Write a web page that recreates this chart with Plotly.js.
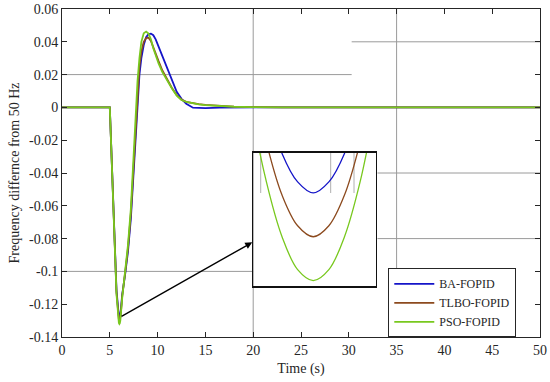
<!DOCTYPE html>
<html>
<head>
<meta charset="utf-8">
<script src="https://cdn.plot.ly/plotly-3.0.1.min.js"></script>
<style>html,body{margin:0;padding:0;background:#fff;}#chart{width:550px;height:382px;}</style>
</head>
<body>
<div id="chart"></div>
<script>
// ---- data ----
const time = [0, 5.0, 5.7, 5.8, 5.85, 5.9, 5.95, 6.0, 6.05, 6.1, 6.15, 6.2, 6.3, 6.6, 6.9, 7.2, 7.5, 7.7, 7.9, 8.1, 8.3, 8.55, 8.8, 9.05, 9.3, 9.55, 9.8, 10.1, 10.5, 11.0, 11.5, 12.0, 12.5, 13.0, 13.7, 14.3, 15.0, 16.5, 18, 20, 23, 50];
const baFopid = [0, 0, -0.1114, -0.1206, -0.1239, -0.1262, -0.1275, -0.1280, -0.1275, -0.1262, -0.1239, -0.1206, -0.1140, -0.1020, -0.0880, -0.0680, -0.0380, -0.0140, 0.0060, 0.0200, 0.0300, 0.0380, 0.0428, 0.0447, 0.0450, 0.0440, 0.0415, 0.0372, 0.0305, 0.0235, 0.0165, 0.0095, 0.0052, 0.0022, -0.0002, -0.0005, -0.0004, -0.0001, 0, 0, 0, 0];
const tlboFopid = [0, 0, -0.1127, -0.1223, -0.1257, -0.1281, -0.1295, -0.1300, -0.1295, -0.1281, -0.1257, -0.1223, -0.1150, -0.1010, -0.0860, -0.0650, -0.0340, -0.0090, 0.0110, 0.0250, 0.0340, 0.0400, 0.0423, 0.0425, 0.0405, 0.0370, 0.0330, 0.0282, 0.0225, 0.0168, 0.0118, 0.0075, 0.0047, 0.0034, 0.0025, 0.0020, 0.0015, 0.0009, 0.0005, 0.0002, 0, 0];
const psoFopid = [0, 0, -0.1139, -0.1240, -0.1275, -0.1300, -0.1315, -0.1320, -0.1315, -0.1300, -0.1275, -0.1240, -0.1160, -0.1000, -0.0840, -0.0620, -0.0300, -0.0040, 0.0160, 0.0300, 0.0400, 0.0452, 0.0462, 0.0450, 0.0415, 0.0360, 0.0315, 0.0268, 0.0215, 0.0163, 0.0115, 0.0072, 0.0045, 0.0033, 0.0024, 0.0019, 0.0014, 0.0008, 0.0004, 0.0002, 0, 0];
const seriesNames = ['BA-FOPID', 'TLBO-FOPID', 'PSO-FOPID'];
const xTickVals = [0, 5, 10, 15, 20, 25, 30, 35, 40, 45, 50];
const yTickVals = [0.06, 0.04, 0.02, 0, -0.02, -0.04, -0.06, -0.08, -0.1, -0.12, -0.14];
const yTickText = ['0.06', '0.04', '0.02', '0', '-0.02', '-0.04', '-0.06', '-0.08', '-0.1', '-0.12', '-0.14'];

// ---- styling ----
const colors = ['#1414c8', '#8c4a1e', '#78c81e'];
const seriesData = [baFopid, tlboFopid, psoFopid];
const serif = 'Times New Roman';
const axisColor = '#262626';
const gridColor = '#9a9a9a';

const traces = [];
seriesData.forEach((vals, i) => {
  traces.push({
    x: time, y: vals, type: 'scatter', mode: 'lines', name: seriesNames[i],
    line: {color: colors[i], width: 1.8}, xaxis: 'x', yaxis: 'y'
  });
});
seriesData.forEach((vals, i) => {
  traces.push({
    x: time, y: vals, type: 'scatter', mode: 'lines', name: seriesNames[i],
    showlegend: false, line: {color: colors[i], width: 1.3, shape: 'spline'},
    xaxis: 'x2', yaxis: 'y2'
  });
});

function gl(x0, x1, y0, y1) {
  return {type: 'line', xref: 'x', yref: 'y', x0: x0, x1: x1, y0: y0, y1: y1,
          line: {color: gridColor, width: 1}, layer: 'below'};
}
function pl(x, y0, y1) {
  return {type: 'line', xref: 'paper', yref: 'paper', x0: x, x1: x, y0: y0, y1: y1,
          line: {color: '#b0b0b0', width: 1}, layer: 'below'};
}

const layout = {
  width: 550, height: 382,
  margin: {l: 62, r: 10, t: 9, b: 45},
  paper_bgcolor: '#fff', plot_bgcolor: 'rgba(0,0,0,0)',
  showlegend: true,
  font: {family: serif, color: axisColor, size: 13},
  xaxis: {
    domain: [0, 1], range: [0, 50], tickvals: xTickVals, ticks: 'inside', ticklen: 5,
    tickcolor: axisColor, showline: true, mirror: 'ticks', linecolor: axisColor, linewidth: 1,
    showgrid: false, zeroline: false,
    tickfont: {family: serif, size: 14, color: axisColor},
    title: {text: 'Time (s)', font: {family: serif, size: 14, color: axisColor}, standoff: 6}
  },
  yaxis: {
    domain: [0, 1], range: [-0.14, 0.06], tickvals: yTickVals, ticktext: yTickText,
    ticks: 'inside', ticklen: 5, tickcolor: axisColor, showline: true, mirror: 'ticks',
    linecolor: axisColor, linewidth: 1, showgrid: false, zeroline: false,
    tickfont: {family: serif, size: 14, color: axisColor},
    title: {text: 'Frequency differnce from 50 Hz', font: {family: serif, size: 14, color: axisColor}, standoff: 6}
  },
  xaxis2: {
    domain: [0.4002, 0.6563], range: [5.808, 6.2], anchor: 'y2',
    showticklabels: false, ticks: '', showline: true, mirror: true,
    linecolor: '#111', linewidth: 1.5, showgrid: false, zeroline: false
  },
  yaxis2: {
    domain: [0.1546, 0.561], range: [-0.13226, -0.12618], anchor: 'x2',
    showticklabels: false, ticks: '', showline: true, mirror: true,
    linecolor: '#111', linewidth: 1.5, showgrid: false, zeroline: false
  },
  legend: {
    x: 0.6826, y: 0.2095, xanchor: 'left', yanchor: 'top',
    bgcolor: '#fff', bordercolor: axisColor, borderwidth: 1,
    font: {family: serif, size: 12, color: axisColor},
    itemwidth: 40, tracegroupgap: 0
  },
  shapes: [
    gl(20, 20, -0.14, 0.06),
    gl(35, 35, -0.14, 0.06),
    gl(0, 30.3, 0.02, 0.02),
    gl(30.3, 50, 0.04, 0.04),
    gl(33, 50, -0.04, -0.04),
    gl(33, 50, -0.08, -0.08),
    gl(0, 20, -0.1, -0.1),
    pl(0.4157, 0.439, 0.561),
    pl(0.5621, 0.439, 0.561),
    pl(0.6109, 0.439, 0.561)
  ],
  annotations: [{
    x: 19.9, y: -0.0823, ax: 6.07, ay: -0.1279, xref: 'x', yref: 'y', axref: 'x', ayref: 'y',
    text: '', showarrow: true, arrowhead: 2, arrowsize: 1, arrowwidth: 1.4, arrowcolor: '#000', standoff: 0
  }]
};

Plotly.newPlot('chart', traces, layout, {displayModeBar: false, staticPlot: true});
</script>
</body>
</html>
